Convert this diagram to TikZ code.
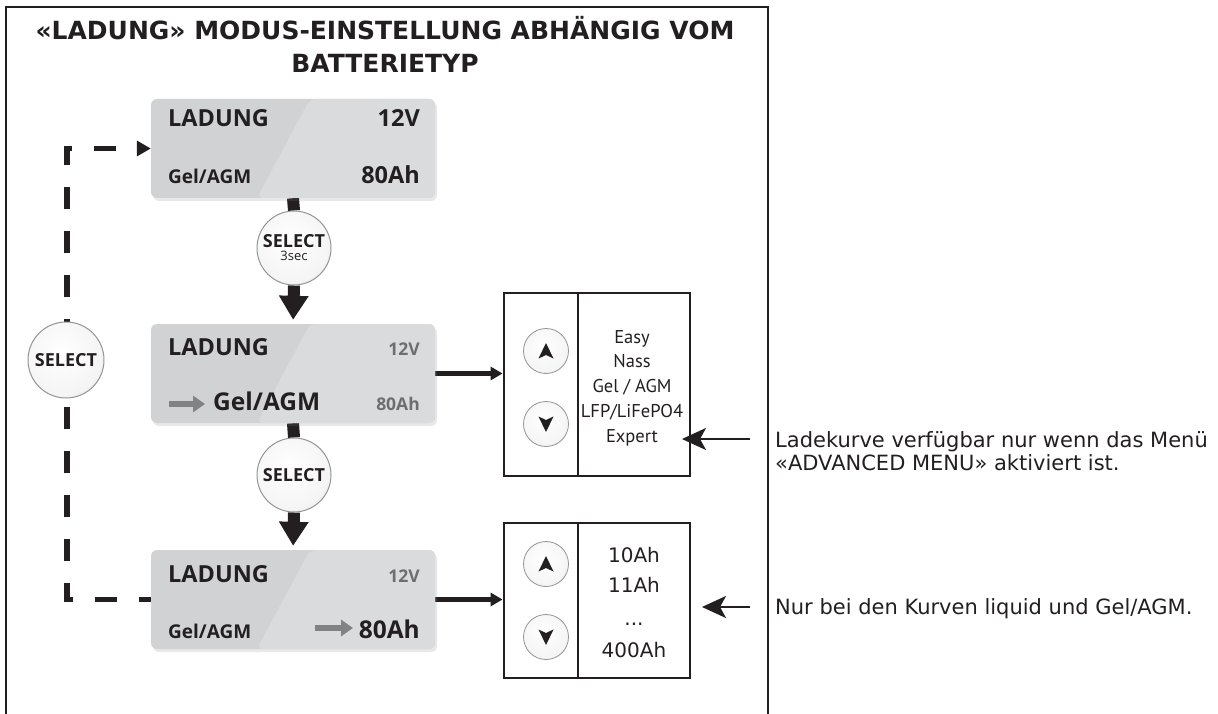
\documentclass[tikz,border=0pt]{standalone}
\usepackage{fontspec}
\setmainfont{DejaVu Sans}
\newfontfamily\lcdfont{Open Sans}
\newfontfamily\menufont{PT Sans}
\usetikzlibrary{arrows.meta,shadows,calc}
\pgfdeclarelayer{background}
\pgfsetlayers{background,main}
\definecolor{ink}{HTML}{231F20}
\definecolor{lcdA}{HTML}{D0D2D3}
\definecolor{lcdB}{HTML}{DADBDC}
\definecolor{gtext}{HTML}{6D6E71}
\definecolor{garrow}{HTML}{808285}
\definecolor{btnedge}{HTML}{939598}
\pgfdeclareradialshading{btnshade}{\pgfpoint{-4bp}{6bp}}{color(0bp)=(white); color(26bp)=(white!96!black); color(50bp)=(black!27); color(60bp)=(black!30)}
\tikzset{
  lcd/.style={rounded corners=6pt, minimum width=284pt, minimum height=99pt, inner sep=0pt,
    fill=lcdA, drop shadow={opacity=0.18, shadow xshift=2pt, shadow yshift=-3pt},
    path picture={\fill[lcdB] ($(path picture bounding box.north west)+(159,0)$) -- (path picture bounding box.north east) -- (path picture bounding box.south east) -- ($(path picture bounding box.south west)+(106,0)$) -- cycle;}},
  big/.style={font=\lcdfont\bfseries\fontsize{23.5}{23.5}\selectfont, text=ink, inner sep=0pt},
  bigsel/.style={font=\lcdfont\bfseries\fontsize{24.5}{24.5}\selectfont, text=ink, inner sep=0pt},
  small/.style={font=\lcdfont\bfseries\fontsize{19}{19}\selectfont, text=ink, inner sep=0pt},
  smallgray/.style={font=\lcdfont\bfseries\fontsize{17.5}{17.5}\selectfont, text=gtext, inner sep=0pt},
  selbtn/.style={circle, draw=btnedge, line width=1pt, minimum size=74pt, inner sep=0pt,
    shading=btnshade, align=center,
    font=\lcdfont\bfseries\fontsize{18}{13}\selectfont, text=ink},
  arrbtn/.style={circle, draw=btnedge, line width=0.8pt, minimum size=45pt, inner sep=0pt,
    shading=btnshade},
  optbox/.style={draw=ink, line width=2.8pt, minimum width=186pt, inner sep=0pt},
  menutxt/.style={font=\menufont\fontsize{18.5}{18.5}\selectfont, text=ink, inner sep=0pt, anchor=base},
  ahtxt/.style={font=\fontsize{20}{20}\selectfont, text=ink, inner sep=0pt, anchor=base},
  notetxt/.style={font=\fontsize{21}{21}\selectfont, text=ink, inner sep=0pt, anchor=base west},
  titletxt/.style={font=\bfseries\fontsize{25}{25}\selectfont, text=ink, inner sep=0pt, anchor=base},
  thickconn/.style={draw=ink, line width=12pt},
  bigarrow/.style={draw=ink, line width=12pt, -{Triangle[length=24pt,width=28pt]}, shorten >=4pt},
  sideconn/.style={draw=ink, line width=4.5pt, -{Triangle[length=12pt,width=13pt]}},
  loopline/.style={draw=ink, line width=5.5pt, dash pattern=on 22pt off 22pt, dash phase=10pt, -{Triangle[length=14pt,width=15pt]}},
  annarrow/.style={draw=ink, line width=2.2pt, -{Stealth[length=24pt,width=22pt,inset=6pt]}},
  grayarr/.style={draw=garrow, line width=5.5pt, -{Triangle[length=12pt,width=16pt]}},
}
\begin{document}
\begin{tikzpicture}[x=1pt,y=-1pt]
\useasboundingbox (0,0) rectangle (1218,714);
% frame
\draw[ink, line width=2.5pt] (6,716) -- (6,7) -- (768,7) -- (768,716);
% title
\node[titletxt] (t1) at (385,40) {«LADUNG» MODUS-EINSTELLUNG ABHÄNGIG VOM};
\node[titletxt] (t2) at (385,73) {BATTERIETYP};
% LCD boxes
\node[lcd] (b1) at (293,148.5) {};
\node[lcd] (b2) at (293,373.5) {};
\node[lcd] (b3) at (293,599.5) {};
% box 1 texts
\node[big, anchor=base west] (b1l) at (168,127) {LADUNG};
\node[big, anchor=base east] (b1v) at (420,127) {12V};
\node[small, anchor=base west] (b1g) at (168,184) {Gel/AGM};
\node[big, anchor=base east] (b1a) at (420,184) {80Ah};
% box 2 texts
\node[big, anchor=base west] (b2l) at (168,355) {LADUNG};
\node[smallgray, anchor=base east] (b2v) at (420,355) {12V};
\node[bigsel, anchor=base west] (b2g) at (213,410) {Gel/AGM};
\node[smallgray, anchor=base east] (b2a) at (420,410) {80Ah};
\draw[grayarr] (169,404) -- (205,404);
% box 3 texts
\node[big, anchor=base west] (b3l) at (168,582) {LADUNG};
\node[smallgray, anchor=base east] (b3v) at (420,582) {12V};
\node[small, anchor=base west] (b3g) at (168,638) {Gel/AGM};
\node[bigsel, anchor=base east] (b3a) at (420,638) {80Ah};
\draw[grayarr] (315,628) -- (353,628);
% select buttons
\node[selbtn] (s1) at (294,248) {SELECT\\{\lcdfont\mdseries\fontsize{13}{13}\selectfont 3sec}};
\node[selbtn] (s2) at (294,475) {SELECT};
\node[selbtn, minimum size=76pt] (s3) at (66,360) {SELECT};
% option boxes
\node[optbox, minimum height=183pt] (o1) at (597,384.5) {};
\node[optbox, minimum height=155pt] (o2) at (597,600.5) {};
\draw[ink, line width=1.8pt] ($(o1.north west)+(75,0)$) -- ($(o1.south west)+(75,0)$);
\draw[ink, line width=1.8pt] ($(o2.north west)+(75,0)$) -- ($(o2.south west)+(75,0)$);
% arrow buttons
\node[arrbtn] (u1) at (546,351) {};
\node[arrbtn] (d1) at (546,424) {};
\node[arrbtn] (u2) at (546,564) {};
\node[arrbtn] (d2) at (546,637) {};
\foreach \n in {u1,u2} \fill[ink, shift={(\n.center)}] (0,-8) -- (7.5,7.5) -- (0,4) -- (-7.5,7.5) -- cycle;
\foreach \n in {d1,d2} \fill[ink, shift={(\n.center)}] (0,8) -- (7.5,-7.5) -- (0,-4) -- (-7.5,-7.5) -- cycle;
% menu texts
\node[menutxt] (m1) at (632,343) {Easy};
\node[menutxt] (m2) at (632,367) {Nass};
\node[menutxt] (m3) at (632,392) {Gel / AGM};
\node[menutxt] (m4) at (632,417) {LFP/LiFePO4};
\node[menutxt] (m5) at (632,442) {Expert};
\node[ahtxt] (h1) at (634,562) {10Ah};
\node[ahtxt] (h2) at (634,592) {11Ah};
\node[ahtxt] (h3) at (634,625) {...};
\node[ahtxt] (h4) at (634,657) {400Ah};
% notes
\node[notetxt] (n1) at (775,447) {Ladekurve verfügbar nur wenn das Menü};
\node[notetxt] (n2) at (775,470) {«ADVANCED MENU» aktiviert ist.};
\node[notetxt] (n3) at (775,614) {Nur bei den Kurven liquid und Gel/AGM.};
\coordinate (p1s) at (750,439);
\coordinate (p1e) at (682,439);
\coordinate (p2s) at (750,607);
\coordinate (p2e) at (702,607);
\coordinate (c1) at (67,148.5);
\coordinate (c2) at (67,599.5);
\begin{pgfonlayer}{background}
\draw[thickconn] (b1.south) -- (s1.north);
\draw[bigarrow] (s1.south) -- (b2.north);
\draw[thickconn] (b2.south) -- (s2.north);
\draw[bigarrow] (s2.south) -- (b3.north);
\draw[sideconn] (b2.east) -- (b2.east -| o1.west);
\draw[sideconn] (b3.east) -- (b3.east -| o2.west);
\draw[loopline] (b3.west) -- (c2) -- (c1) -- (b1.west);
\end{pgfonlayer}
\draw[annarrow] (p1s) -- (p1e);
\draw[annarrow] (p2s) -- (p2e);
\end{tikzpicture}
\end{document}
